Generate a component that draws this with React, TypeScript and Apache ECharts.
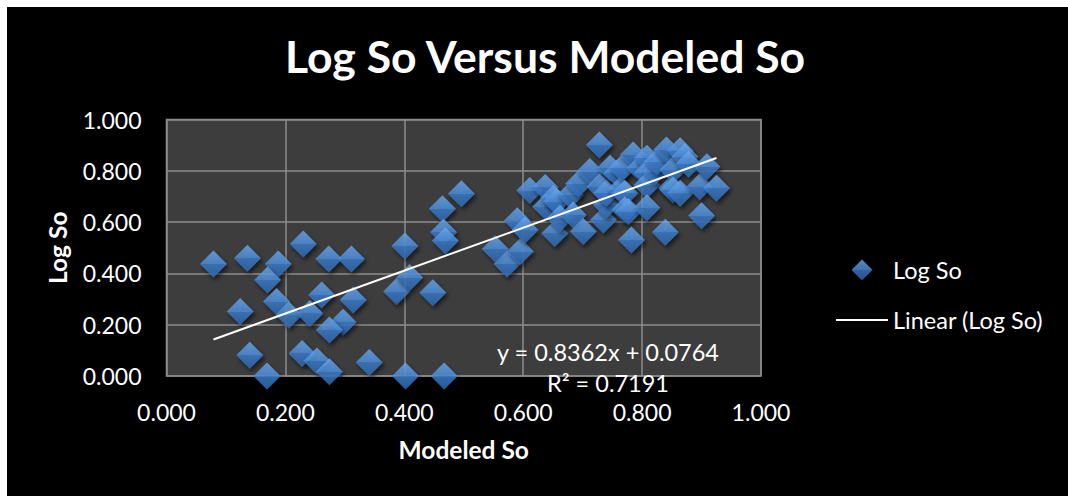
import React, { useEffect, useRef } from "react";
import * as echarts from "echarts";

const modeledSo = [
  0.079, 0.136, 0.188, 0.170, 0.230, 0.273, 0.311, 0.401, 0.185, 0.124,
  0.206, 0.261, 0.241, 0.314, 0.297, 0.274, 0.387, 0.409, 0.448, 0.140,
  0.169, 0.228, 0.253, 0.274, 0.341, 0.402, 0.467, 0.464, 0.466, 0.469,
  0.496, 0.553, 0.573, 0.595, 0.590, 0.603, 0.611, 0.637, 0.638, 0.651,
  0.656, 0.653, 0.662, 0.679, 0.684, 0.701, 0.693, 0.712, 0.728, 0.729,
  0.735, 0.740, 0.740, 0.746, 0.757, 0.763, 0.766, 0.771, 0.771, 0.777,
  0.782, 0.785, 0.796, 0.808, 0.808, 0.808, 0.808, 0.822, 0.825, 0.839,
  0.841, 0.850, 0.852, 0.852, 0.864, 0.864, 0.872, 0.878, 0.897, 0.900,
  0.909, 0.925,
];

const logSo = [
  0.437, 0.459, 0.437, 0.374, 0.515, 0.456, 0.456, 0.507, 0.290, 0.251,
  0.238, 0.316, 0.244, 0.296, 0.210, 0.179, 0.329, 0.384, 0.325, 0.081,
  0.000, 0.088, 0.058, 0.017, 0.053, 0.000, 0.000, 0.652, 0.560, 0.527,
  0.711, 0.495, 0.437, 0.485, 0.605, 0.569, 0.723, 0.735, 0.660, 0.693,
  0.680, 0.556, 0.615, 0.706, 0.628, 0.563, 0.750, 0.797, 0.901, 0.738,
  0.608, 0.667, 0.712, 0.810, 0.790, 0.725, 0.810, 0.712, 0.647, 0.641,
  0.530, 0.862, 0.810, 0.849, 0.790, 0.745, 0.656, 0.797, 0.835, 0.560,
  0.881, 0.732, 0.803, 0.725, 0.878, 0.712, 0.855, 0.826, 0.738, 0.625,
  0.816, 0.732,
];

const trendSlope = 0.8362;
const trendIntercept = 0.0764;
const equationText = "y = 0.8362x + 0.0764";
const r2Text = "R² = 0.7191";

const titleText = "Log So Versus Modeled So";
const xAxisName = "Modeled So";
const yAxisName = "Log So";
const seriesName = "Log So";
const trendName = "Linear (Log So)";

const FONT = "Lato, 'Noto Sans', sans-serif";

export default function App() {
  const ref = useRef<HTMLDivElement>(null);

  useEffect(() => {
    if (!ref.current) return;
    const chart = echarts.init(ref.current, undefined, { renderer: "svg" });

    const points = modeledSo.map((x, i) => [x, logSo[i]]);
    const xMin = Math.min(...modeledSo);
    const xMax = Math.max(...modeledSo);
    const trendData = [
      [xMin, trendSlope * xMin + trendIntercept],
      [xMax, trendSlope * xMax + trendIntercept],
    ];

    const diamondColor = new echarts.graphic.LinearGradient(0, 0, 0, 1, [
      { offset: 0, color: "#6caaf0" },
      { offset: 0.5, color: "#4f8fdb" },
      { offset: 0.5, color: "#3e7cc8" },
      { offset: 1, color: "#3068ad" },
    ]);

    chart.setOption({
      animation: false,
      backgroundColor: "#000000",
      title: {
        text: titleText,
        left: 273,
        top: 21,
        textStyle: {
          color: "#ffffff",
          fontFamily: FONT,
          fontWeight: "bold",
          fontSize: 44.5,
        },
      },
      grid: {
        left: 159.5,
        top: 112.5,
        width: 594.5,
        height: 256.5,
        show: true,
        backgroundColor: "#3d3d3d",
        borderColor: "#8c8c8c",
        borderWidth: 1.5,
      },
      legend: {
        orient: "vertical",
        left: 824,
        top: 246,
        itemWidth: 52,
        itemHeight: 21,
        itemGap: 26,
        textStyle: {
          color: "#ffffff",
          fontFamily: FONT,
          fontSize: 23.5,
        },
        data: [
          { name: seriesName, icon: "path://M10,0 L20,10 L10,20 L0,10 Z" },
          {
            name: trendName,
            icon: "path://M0,0 L52,0 L52,2 L0,2 Z",
            itemStyle: { color: "#ffffff" },
          },
        ],
      },
      xAxis: {
        type: "value",
        min: 0,
        max: 1,
        interval: 0.2,
        name: xAxisName,
        nameLocation: "middle",
        nameGap: 61,
        nameTextStyle: {
          color: "#ffffff",
          fontFamily: FONT,
          fontWeight: "bold",
          fontSize: 24.5,
        },
        axisLine: { show: false },
        axisTick: { show: false },
        axisLabel: {
          color: "#ffffff",
          fontFamily: FONT,
          fontSize: 23,
          margin: 24,
          formatter: (v: number) => v.toFixed(3),
        },
        splitLine: { lineStyle: { color: "#8c8c8c", width: 1.5 } },
      },
      yAxis: {
        type: "value",
        min: 0,
        max: 1,
        interval: 0.2,
        name: yAxisName,
        nameLocation: "middle",
        nameGap: 97,
        nameTextStyle: {
          color: "#ffffff",
          fontFamily: FONT,
          fontWeight: "bold",
          fontSize: 24.5,
        },
        axisLine: { show: false },
        axisTick: { show: false },
        axisLabel: {
          color: "#ffffff",
          fontFamily: FONT,
          fontSize: 23,
          margin: 25,
          formatter: (v: number) => v.toFixed(3),
        },
        splitLine: { lineStyle: { color: "#8c8c8c", width: 1.5 } },
      },
      series: [
        {
          name: seriesName,
          type: "scatter",
          symbol: "diamond",
          symbolSize: 27,
          data: points,
          itemStyle: {
            color: diamondColor,
            shadowColor: "rgba(0,0,0,0.7)",
            shadowBlur: 4,
            shadowOffsetX: 2,
            shadowOffsetY: 3,
          },
          z: 2,
        },
        {
          name: trendName,
          type: "line",
          data: trendData,
          showSymbol: false,
          symbol: "none",
          lineStyle: { color: "#ffffff", width: 2 },
          itemStyle: { color: "#ffffff" },
          z: 3,
        },
      ],
      graphic: [
        {
          type: "text",
          x: 601,
          y: 345,
          z: 10,
          style: {
            text: equationText,
            fill: "#ffffff",
            font: `23.5px ${FONT}`,
            textAlign: "center",
            textVerticalAlign: "middle",
          },
        },
        {
          type: "text",
          x: 601,
          y: 376,
          z: 10,
          style: {
            text: r2Text,
            fill: "#ffffff",
            font: `23.5px ${FONT}`,
            textAlign: "center",
            textVerticalAlign: "middle",
          },
        },
      ],
    });

    return () => chart.dispose();
  }, []);

  return (
    <div
      ref={ref}
      style={{
        position: "absolute",
        left: 7,
        top: 7,
        width: 1061,
        height: 489,
      }}
    />
  );
}
